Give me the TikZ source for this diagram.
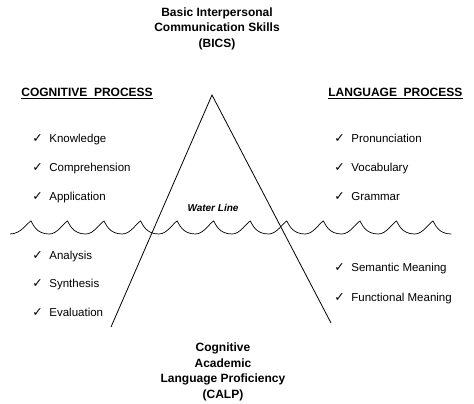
\documentclass[tikz,border=0pt]{standalone}
\usepackage{fontspec}
\setmainfont{Liberation Sans}
\newfontfamily\checkfont{DejaVu Sans}
\usetikzlibrary{positioning}
\newcommand{\chkmark}{\makebox[17pt][l]{\checkfont\fontsize{12.5}{12}\selectfont ✓}}

\begin{document}
\begin{tikzpicture}[x=1pt, y=-1pt, line width=0.8pt,
		title/.style ={align=center, inner sep=0pt, anchor=north, font=\bfseries\fontsize{12}{15.5}\selectfont},
		heading/.style ={inner sep=0pt, anchor=base west, font=\bfseries\fontsize{12}{14}\selectfont},
		item/.style ={inner sep=0pt, anchor=base west, font=\fontsize{11.5}{14}\selectfont}]
		\useasboundingbox (0,0) rectangle (474,404);
		\node[title](bics) at (217,7.2) {Basic Interpersonal\\Communication Skills\\(BICS)};
		\node[title](calp) at (223,342.8) {Cognitive\\Academic\\Language Proficiency\\(CALP)};
		\node[heading](cog) at (21,96.7) {COGNITIVE\ \ PROCESS};
		\node[heading](lang) at (328,96.7) {LANGUAGE\ \ PROCESS};
		\draw[line width=0.9pt] ([yshift=-1.9pt]cog.base west) -- ([yshift=-1.9pt]cog.base east);
		\draw[line width=0.9pt] ([yshift=-1.9pt]lang.base west) -- ([yshift=-1.9pt]lang.base east);
		% above the water
		\node[item](know) at (32,142) {\chkmark Knowledge};
		\node[item](comp) at (32,171.4) {\chkmark Comprehension};
		\node[item](appl) at (32,200.8) {\chkmark Application};
		\node[item](pron) at (334,142) {\chkmark Pronunciation};
		\node[item](voc) at (334,171.4) {\chkmark Vocabulary};
		\node[item](gram) at (334,200.8) {\chkmark Grammar};
		% below the water
		\node[item](anal) at (32,259) {\chkmark Analysis};
		\node[item](synt) at (32,287.4) {\chkmark Synthesis};
		\node[item](eval) at (32,316.8) {\chkmark Evaluation};
		\node[item](sem) at (334,271.8) {\chkmark Semantic Meaning};
		\node[item](func) at (334,301.4) {\chkmark Functional Meaning};
		\node[font=\bfseries\itshape\fontsize{10}{12}\selectfont](water) at (213,208) {Water Line};
		% iceberg
		\coordinate (apex) at (212,95);
		\coordinate (leftfoot) at (111,327);
		\coordinate (rightfoot) at (331,323);
		\draw (leftfoot) -- (apex) -- (rightfoot);
		% waves
		\draw[line width=0.7pt] (10,234)
		\foreach \c in {31,67.5,104,140.6,177.2,213.7,250.3,286.8,323.4,360,396.5,433} {
			.. controls ({\c-10},234) and ({\c-4},223) .. (\c,221)
			.. controls ({\c+2},224) and ({\c+5},234) .. ({\c+18.3},234)
		};
	\end{tikzpicture}
\end{document}
